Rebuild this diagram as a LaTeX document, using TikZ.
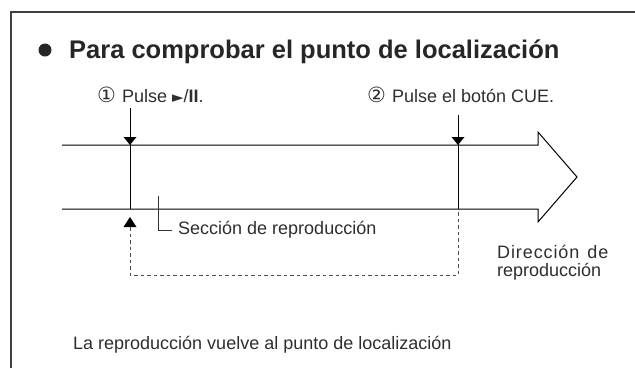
\documentclass[tikz,border=0pt]{standalone}
\usepackage{fontspec}
\setmainfont{Liberation Sans}
\newfontfamily\symfont{DejaVu Sans}
\begin{document}
\begin{tikzpicture}[x=1pt,y=-1pt,
  txt/.style={anchor=west,inner sep=0pt,font=\fontsize{18}{20}\selectfont,text=black!82},
  tri/.style={fill=black,draw=none},
  main/.style={line width=1pt,black},
  dashline/.style={dashed,dash pattern=on 3.5pt off 3pt,line width=0.8pt,black!70}]
\useasboundingbox (0,0) rectangle (635,368);
% frame
\draw[line width=1.1pt,black!75] (11,368) -- (11,12) -- (635,12);
% title
\fill[black!85] (45,50) circle (6.5);
\node[anchor=base west,inner sep=0pt,font=\fontsize{25.5}{30}\selectfont\bfseries,text=black!85] (title) at (69,58) {Para comprobar el punto de localización};
% step labels
\node[txt] (s1) at (97,95) {{\symfont\fontsize{21}{21}\selectfont ①}\hspace{6pt}Pulse {\symfont\fontsize{15}{15}\selectfont ►}/\textbf{II}.};
\node[txt] (s2) at (367,95) {{\symfont\fontsize{21}{21}\selectfont ②}\hspace{6pt}Pulse el botón CUE.};
% big arrow
\coordinate (tl) at (62,145);
\coordinate (bl) at (62,209);
\draw[main] (tl) -- (538,145) -- (538,132) -- (577,177) -- (538,222) -- (538,209) -- (bl);
% vertical markers
\coordinate (v1t) at (130,108);
\coordinate (v1b) at (130,209);
\coordinate (v2t) at (458,115);
\coordinate (v2b) at (458,209);
\draw[main] (v1t) -- (v1b);
\draw[main] (v2t) -- (v2b);
\fill[tri] (123.5,137) -- (136.5,137) -- (130,145) -- cycle;
\fill[tri] (451.5,137) -- (464.5,137) -- (458,145) -- cycle;
\fill[tri] (123.5,227) -- (136.5,227) -- (130,217) -- cycle;
% dashed return
\coordinate (d1) at (130,227);
\coordinate (d2) at (130,275);
\coordinate (d3) at (458,275);
\draw[dashline] (d1) -- (d2) -- (d3) -- (v2b);
% section label
\draw[line width=0.8pt,black!80] (158,196) -- (158,230) -- (172,230);
\node[txt] (sec) at (178,230) {Sección de reproducción};
% direction
\node[txt] (dir1) at (497,252) {\addfontfeature{LetterSpace=5}Dirección\hspace{8pt}de};
\node[txt] (dir2) at (497,272) {reproducción};
% bottom note
\node[txt] (note) at (73,345) {La reproducción vuelve al punto de localización};
\end{tikzpicture}
\end{document}
